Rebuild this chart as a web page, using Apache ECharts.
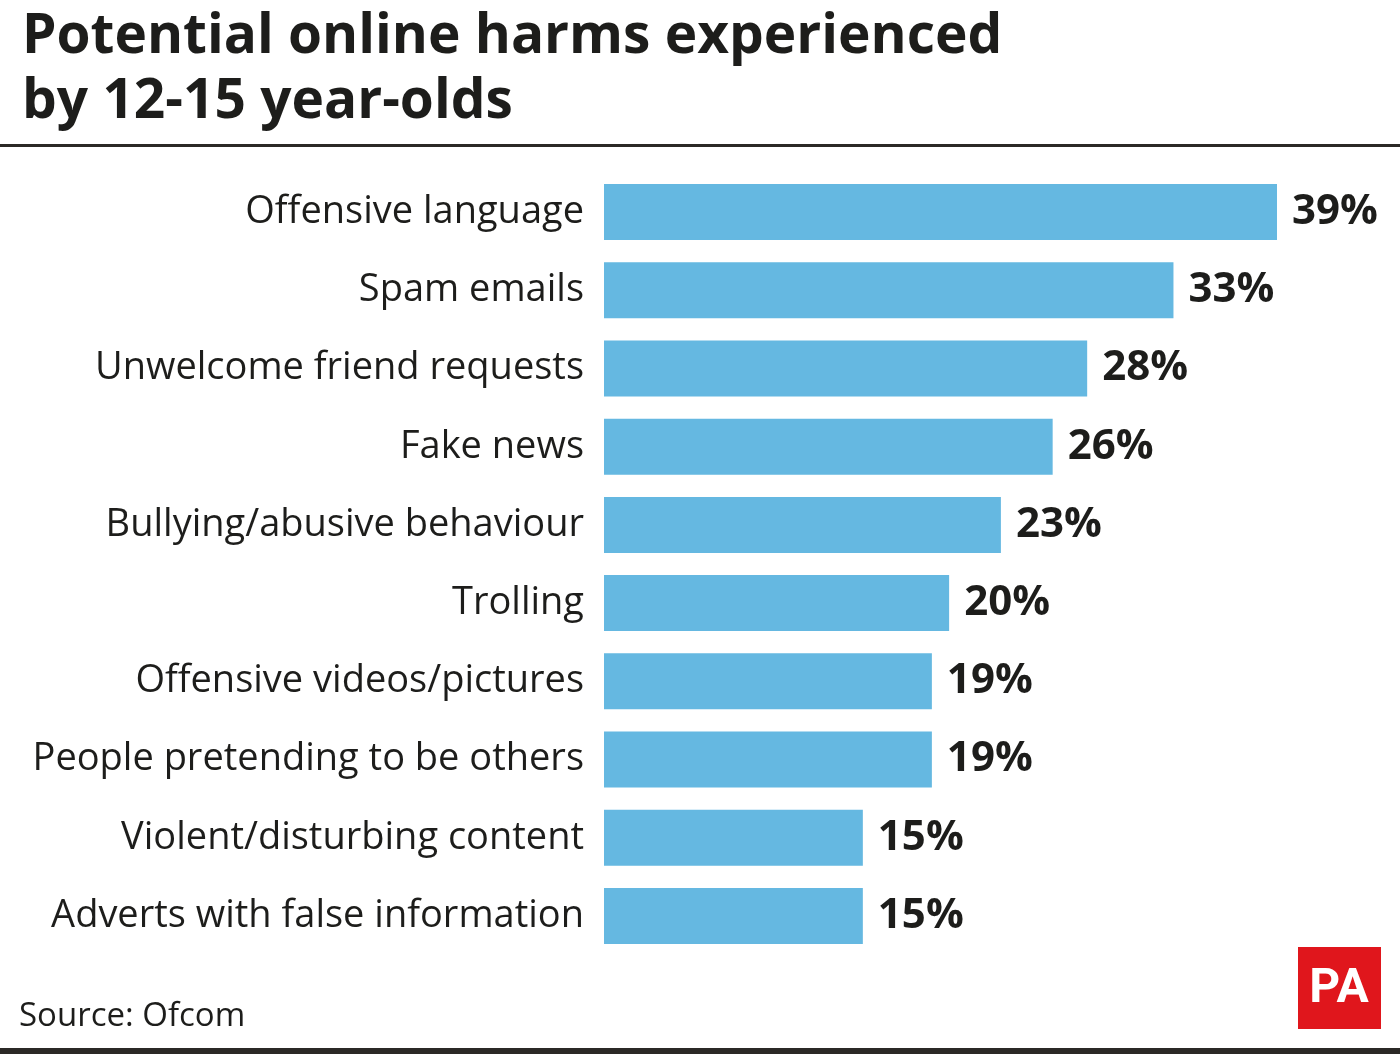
<!DOCTYPE html>
<html><head><meta charset="utf-8">
<script src="https://cdn.jsdelivr.net/npm/echarts@6/dist/echarts.min.js"></script>
<style>html,body{margin:0;padding:0;background:#fff}#c{width:1400px;height:1054px}</style>
</head><body><div id="c"></div>
<script>
const categories = ["Offensive language","Spam emails","Unwelcome friend requests","Fake news","Bullying/abusive behaviour","Trolling","Offensive videos/pictures","People pretending to be others","Violent/disturbing content","Adverts with false information"];
const values = [39,33,28,26,23,20,19,19,15,15];
const titleText = "Potential online harms experienced\nby 12-15 year-olds";
const sourceText = "Source: Ofcom";

const chart = echarts.init(document.getElementById('c'), null, {renderer:'canvas'});
chart.setOption({
  animation:false,
  backgroundColor:'#fff',
  title:{text:titleText,left:17,top:0,textStyle:{fontFamily:'Open Sans',fontWeight:'bold',fontSize:55,lineHeight:65,color:'#1d1d1b'}},
  grid:{left:604,right:123,top:173,bottom:99,containLabel:false},
  xAxis:{type:'value',min:0,max:39,show:false},
  yAxis:{type:'category',data:categories,inverse:true,
    axisLine:{show:false},axisTick:{show:false},
    axisLabel:{margin:20,fontFamily:'Open Sans',fontSize:38,color:'#1d1d1b',padding:[6,0,0,0]}},
  series:[{type:'bar',data:values,barWidth:56,itemStyle:{color:'#65b8e1'},
    label:{show:true,position:'right',distance:15,formatter:'{c}%',fontFamily:'Open Sans',fontWeight:'bold',fontSize:42,color:'#1d1d1b'}}],
  graphic:[
    {type:'rect',shape:{x:0,y:144,width:1400,height:3},style:{fill:'#2b2926'}},
    {type:'rect',shape:{x:0,y:1048,width:1400,height:6},style:{fill:'#2b2926'}},
    {type:'text',left:19,top:1000,style:{text:sourceText,fontFamily:'Open Sans',fontSize:33,fill:'#1d1d1b'}},
    {type:'rect',shape:{x:1298,y:947,width:83,height:82},style:{fill:'#e0161c'}},
    {type:'text',x:1339,y:990,style:{text:'PA',fontFamily:'Liberation Sans Narrow, Roboto',fontWeight:'bold',fontSize:48,fill:'#fff',align:'center',verticalAlign:'middle'}}
  ]
});
</script></body></html>
